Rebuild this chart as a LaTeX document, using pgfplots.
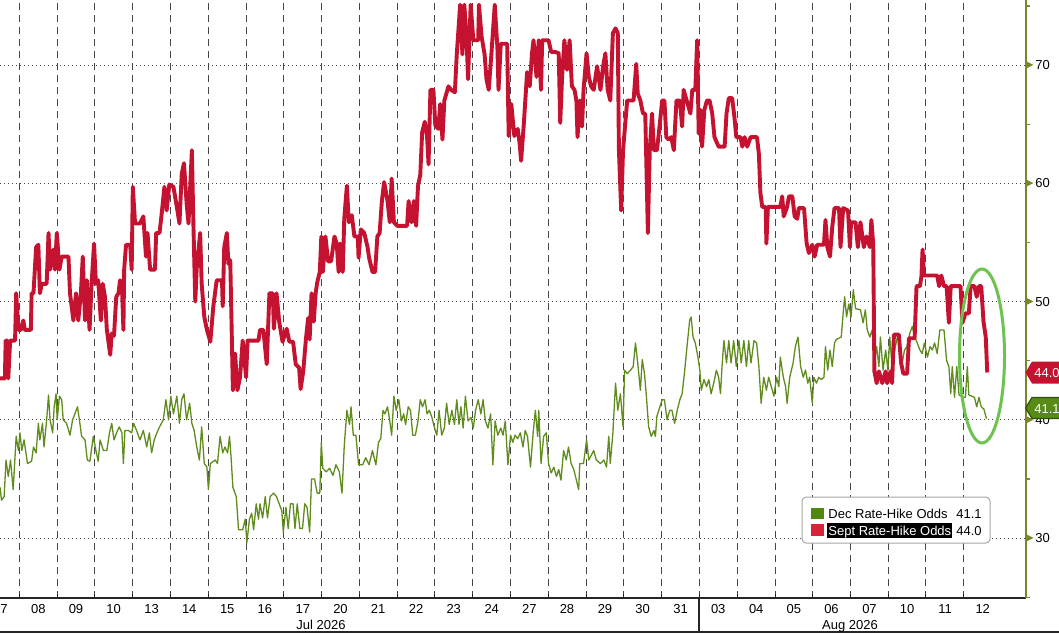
\documentclass[border=0pt]{standalone}
\usepackage{pgfplots}
\pgfplotsset{compat=1.18}
\usepackage{fontspec}
\setmainfont{Liberation Sans}
\definecolor{sept}{RGB}{196,18,48}
\definecolor{dec}{RGB}{96,140,30}
\definecolor{axisol}{RGB}{120,135,40}
\definecolor{ell}{RGB}{110,195,80}
\definecolor{gridc}{RGB}{70,70,70}
\definecolor{tagg}{RGB}{88,138,22}
\definecolor{taggb}{RGB}{50,80,10}
\definecolor{legg}{RGB}{80,135,15}
\definecolor{legr}{RGB}{215,35,55}
\newcommand\tf{\fontsize{6.5pt}{7pt}\selectfont}
\newcommand\lf{\fontsize{6.5pt}{7pt}\selectfont}

\pgfplotstableread{
x v
0.00 43.5
0.13 43.5
0.15 46.7
0.19 46.7
0.22 43.5
0.27 46.7
0.40 46.7
0.43 50.7
0.49 47.6
0.55 47.6
0.62 48.4
0.66 47.6
0.82 47.6
0.84 50.7
0.89 50.7
0.96 54.6
1.02 54.8
1.06 50.7
1.11 51.5
1.24 51.5
1.29 55.8
1.33 52.7
1.42 54.4
1.46 52.7
1.51 55.8
1.58 52.7
1.64 53.8
1.82 53.8
1.86 50.7
1.95 48.4
2.02 50.7
2.08 48.4
2.15 50.7
2.20 53.8
2.26 48.4
2.31 51.8
2.38 47.6
2.44 51.8
2.50 54.9
2.55 51.5
2.61 51.8
2.68 48.4
2.73 51.5
2.79 50.4
2.84 47.6
2.93 45.5
2.97 47.3
3.03 47.1
3.09 50.4
3.15 50.7
3.19 51.8
3.24 51.5
3.28 47.6
3.30 52.7
3.35 54.8
3.46 54.8
3.50 52.7
3.53 59.7
3.59 56.6
3.72 56.6
3.81 57.2
3.88 53.8
3.92 55.8
3.99 52.7
4.12 52.7
4.15 55.8
4.24 55.8
4.30 57.5
4.37 59.7
4.43 57.7
4.50 59.9
4.61 59.7
4.70 58.0
4.77 56.6
4.83 60.8
4.89 61.7
4.96 58.3
5.01 56.6
5.10 62.8
5.14 56.6
5.19 50.0
5.23 52.9
5.32 55.8
5.36 51.5
5.43 48.7
5.50 47.6
5.59 46.6
5.67 49.6
5.76 51.8
5.90 51.8
5.92 49.6
5.96 54.6
6.03 55.8
6.07 53.2
6.12 53.5
6.19 42.5
6.25 45.6
6.31 42.5
6.38 43.6
6.45 46.7
6.54 43.6
6.58 46.7
6.87 46.7
6.91 47.6
7.00 47.6
7.09 44.7
7.16 50.7
7.25 50.7
7.28 47.7
7.35 50.7
7.42 48.3
7.51 46.6
7.62 47.7
7.69 46.6
7.79 46.6
7.86 44.7
7.95 44.4
7.99 42.6
8.06 44.1
8.13 46.8
8.19 48.6
8.23 46.8
8.28 50.7
8.34 48.3
8.39 50.7
8.43 51.6
8.50 52.5
8.54 55.5
8.58 52.5
8.65 55.5
8.72 53.4
8.80 53.4
8.89 55.5
8.95 54.9
9.00 52.5
9.04 54.9
9.11 52.5
9.15 57.0
9.22 59.8
9.27 56.7
9.35 57.3
9.42 55.5
9.51 55.5
9.53 53.7
9.59 56.1
9.68 55.8
9.77 54.6
9.81 53.7
9.90 52.5
9.97 52.5
10.03 55.5
10.09 55.8
10.15 58.5
10.21 60.1
10.30 58.5
10.36 56.7
10.41 60.4
10.47 56.7
10.56 56.4
10.82 56.4
10.86 58.5
10.94 56.7
11.00 58.5
11.06 56.4
11.11 59.8
11.17 60.7
11.22 64.3
11.29 65.2
11.35 64.0
11.39 61.6
11.44 67.9
11.52 67.9
11.57 64.9
11.65 64.6
11.70 66.7
11.76 63.7
11.81 67.0
11.92 68.2
11.99 67.9
12.09 67.7
12.14 70.9
12.23 75.1
12.29 70.9
12.34 75.1
12.40 72.4
12.44 68.8
12.51 75.1
12.58 72.1
12.71 72.1
12.73 75.1
12.80 72.4
12.88 70.9
12.93 68.8
12.99 67.9
13.06 70.9
13.15 75.1
13.22 71.5
13.25 67.9
13.31 71.8
13.48 71.8
13.52 64.0
13.59 66.7
13.67 64.0
13.76 64.6
13.81 63.4
13.85 61.9
13.92 64.9
14.01 69.4
14.08 68.2
14.14 71.0
14.18 72.1
14.26 69.0
14.32 72.1
14.38 67.9
14.41 72.1
14.58 72.1
14.65 71.1
14.76 71.1
14.85 71.0
14.89 65.1
14.94 69.0
15.00 72.1
15.07 69.6
15.14 72.1
15.20 68.2
15.27 67.9
15.32 67.0
15.35 63.9
15.41 67.0
15.47 64.8
15.51 67.9
15.59 71.0
15.65 69.0
15.71 68.2
15.78 67.9
15.87 69.9
15.96 67.9
16.03 69.9
16.09 71.0
16.15 67.9
16.22 67.0
16.29 72.7
16.36 73.1
16.42 72.7
16.45 62.8
16.51 57.7
16.56 62.8
16.62 65.1
16.67 67.0
16.84 67.0
16.91 70.1
16.95 67.6
17.02 67.0
17.09 65.9
17.15 65.9
17.22 55.8
17.27 62.8
17.33 65.9
17.38 62.8
17.46 62.8
17.51 64.2
17.60 67.0
17.66 67.0
17.71 63.9
17.77 63.7
17.84 63.9
17.91 62.8
17.98 67.0
18.07 67.0
18.13 64.8
18.17 67.9
18.35 65.9
18.40 67.9
18.48 67.9
18.53 72.1
18.57 64.2
18.62 66.2
18.66 63.1
18.72 66.2
18.79 67.0
18.86 67.0
18.93 65.9
18.99 63.9
19.10 63.1
19.26 63.1
19.31 65.9
19.37 67.2
19.46 67.2
19.52 65.6
19.57 63.9
19.68 63.9
19.73 63.1
19.79 63.9
19.86 63.1
19.95 63.9
20.12 63.9
20.17 62.5
20.21 59.2
20.26 58.0
20.35 58.0
20.37 54.9
20.41 58.0
20.74 58.0
20.79 58.9
20.83 57.2
20.92 58.0
20.97 58.9
21.06 58.9
21.12 57.2
21.19 57.0
21.23 57.9
21.37 57.9
21.44 54.9
21.50 54.1
21.59 54.8
21.65 53.8
21.72 54.8
21.90 54.8
21.94 56.9
21.99 54.6
22.06 53.8
22.12 56.3
22.18 57.9
22.30 57.9
22.34 54.6
22.41 57.9
22.54 57.7
22.59 54.6
22.62 56.7
22.74 56.7
22.80 54.6
22.87 56.7
22.96 54.6
23.03 55.5
23.12 54.6
23.16 56.9
23.21 54.8
23.24 44.1
23.30 43.1
23.36 44.1
23.45 43.1
23.54 44.1
23.58 43.1
23.67 44.1
23.71 43.1
23.76 47.2
23.89 47.2
23.95 44.8
24.01 43.9
24.11 43.9
24.16 46.9
24.31 46.9
24.36 51.3
24.45 51.3
24.49 52.1
24.52 54.4
24.56 52.2
24.91 52.2
24.96 51.3
25.02 52.2
25.09 51.3
25.16 51.3
25.22 48.2
25.27 51.3
25.53 51.3
25.58 48.2
25.66 49.0
25.75 49.0
25.80 51.3
25.90 51.3
25.96 50.4
26.02 51.3
26.08 51.3
26.14 48.3
26.20 47.0
26.24 44.0
}\septdata

\pgfplotstableread{
x v
0.00 34.3
0.04 33.2
0.11 33.5
0.16 36.6
0.22 35.2
0.28 36.6
0.35 34.1
0.43 38.6
0.49 37.4
0.53 38.9
0.58 37.4
0.64 38.3
0.69 37.2
0.73 36.3
0.84 36.5
0.89 37.7
0.96 37.2
1.02 39.7
1.06 38.3
1.13 39.7
1.17 37.7
1.24 40.0
1.29 42.1
1.33 40.0
1.40 38.9
1.44 41.1
1.49 42.2
1.52 40.0
1.58 42.0
1.64 41.7
1.68 40.0
1.77 39.7
1.86 38.7
1.93 40.0
1.99 40.5
2.06 41.1
2.11 40.0
2.17 38.6
2.26 38.3
2.32 36.6
2.39 36.5
2.48 38.6
2.55 37.4
2.61 36.5
2.66 38.3
2.75 37.4
2.84 37.4
2.91 38.9
2.97 39.7
3.03 38.3
3.10 38.9
3.17 39.4
3.24 38.9
3.28 36.3
3.32 39.1
3.41 39.1
3.50 38.9
3.55 39.7
3.63 39.1
3.72 38.3
3.81 39.1
3.90 37.7
3.97 38.9
4.03 37.2
4.10 38.3
4.17 38.9
4.24 39.4
4.34 40.0
4.41 41.7
4.48 40.0
4.54 42.0
4.61 40.5
4.70 42.0
4.77 39.7
4.83 41.7
4.89 42.2
4.96 40.0
5.04 41.4
5.10 39.7
5.16 39.1
5.23 37.7
5.30 36.6
5.36 39.4
5.43 36.3
5.50 36.0
5.54 34.1
5.59 36.3
5.72 36.6
5.78 36.3
5.85 38.6
5.92 37.2
5.98 37.7
6.05 37.2
6.10 38.6
6.14 36.9
6.19 34.3
6.28 33.5
6.34 30.7
6.45 30.7
6.52 31.6
6.56 29.6
6.63 31.6
6.69 32.1
6.74 30.7
6.81 32.9
6.87 31.6
6.91 32.9
6.98 31.7
7.05 33.5
7.11 31.7
7.18 33.5
7.27 33.8
7.35 33.5
7.42 32.9
7.49 32.3
7.53 30.5
7.60 32.6
7.66 30.8
7.72 32.9
7.79 32.9
7.84 30.8
7.90 32.9
7.97 30.8
8.04 30.8
8.10 32.9
8.16 32.6
8.23 30.5
8.28 35.0
8.36 35.0
8.43 33.8
8.50 33.8
8.54 38.1
8.58 35.9
8.67 35.6
8.76 35.9
8.85 35.3
8.93 36.2
9.02 35.6
9.09 33.8
9.15 37.8
9.22 40.8
9.29 39.6
9.33 41.1
9.39 38.7
9.46 38.7
9.53 36.2
9.64 36.2
9.72 36.8
9.81 36.2
9.90 37.4
9.99 36.2
10.06 38.1
10.12 38.4
10.18 40.8
10.23 40.5
10.30 41.1
10.36 39.9
10.41 38.7
10.47 42.0
10.53 40.8
10.60 41.7
10.67 39.9
10.73 40.5
10.78 39.6
10.85 41.1
10.91 40.8
10.97 38.7
11.04 38.7
11.11 39.9
11.17 41.7
11.23 41.1
11.30 41.7
11.35 40.5
11.41 40.8
11.48 40.2
11.55 39.3
11.61 38.7
11.67 40.8
11.74 38.7
11.81 39.3
11.87 41.4
11.94 39.6
12.01 40.8
12.08 39.6
12.14 41.7
12.20 39.6
12.25 41.1
12.31 39.3
12.37 42.0
12.44 39.9
12.52 40.2
12.58 39.3
12.64 40.8
12.71 41.7
12.78 40.5
12.84 41.7
12.90 39.9
12.97 39.3
13.04 40.5
13.10 36.2
13.16 39.9
13.23 38.7
13.31 39.3
13.37 38.7
13.43 39.9
13.50 36.2
13.57 38.7
13.63 38.1
13.69 38.7
13.76 38.4
13.83 38.9
13.90 37.7
13.96 39.1
14.02 38.6
14.10 36.0
14.17 38.9
14.23 40.8
14.29 38.6
14.32 40.8
14.38 36.3
14.45 38.6
14.52 38.9
14.58 36.3
14.65 35.5
14.72 36.0
14.79 35.2
14.85 35.8
14.91 34.9
14.98 37.4
15.05 36.6
15.11 37.7
15.18 36.3
15.25 35.8
15.32 34.9
15.38 34.1
15.41 36.3
15.51 36.3
15.59 38.3
15.65 36.6
15.78 37.4
15.85 36.6
15.96 36.3
16.05 36.6
16.12 36.0
16.18 38.6
16.22 36.3
16.29 38.9
16.36 43.1
16.42 40.8
16.49 42.2
16.56 39.4
16.60 44.2
16.67 43.9
16.76 44.2
16.83 44.5
16.89 46.5
16.95 44.8
17.02 42.5
17.07 45.1
17.13 43.9
17.18 42.0
17.24 39.4
17.31 38.6
17.38 39.1
17.42 38.6
17.46 40.3
17.54 41.1
17.60 41.7
17.66 41.7
17.73 40.0
17.80 40.8
17.86 40.8
17.93 39.7
18.00 40.8
18.07 41.7
18.13 42.2
18.19 43.9
18.26 46.2
18.33 48.4
18.37 48.7
18.42 47.0
18.48 46.5
18.55 45.3
18.60 44.2
18.64 42.5
18.71 43.4
18.78 42.8
18.84 43.4
18.90 42.2
18.97 43.1
19.04 44.2
19.10 43.6
19.15 42.2
19.19 44.5
19.24 46.7
19.31 44.8
19.37 46.7
19.43 44.8
19.50 46.7
19.57 44.5
19.64 46.7
19.70 44.8
19.77 46.7
19.84 44.5
19.90 46.7
19.96 44.8
20.04 46.7
20.11 46.5
20.17 44.5
20.23 41.4
20.30 43.6
20.37 42.5
20.43 43.6
20.50 42.8
20.57 42.0
20.64 43.6
20.70 42.8
20.74 45.3
20.82 43.6
20.88 42.8
20.92 41.4
20.99 43.6
21.08 44.8
21.14 46.2
21.21 47.0
21.28 44.5
21.35 43.6
21.41 44.2
21.47 43.1
21.52 43.6
21.59 41.4
21.63 43.6
21.70 43.1
21.76 43.6
21.83 43.4
21.90 43.6
21.94 46.2
22.00 44.2
22.06 45.9
22.12 44.5
22.18 46.5
22.23 46.8
22.36 47.0
22.41 49.0
22.45 50.4
22.50 48.7
22.56 49.8
22.62 48.7
22.68 51.0
22.74 49.4
22.87 49.3
22.94 48.2
23.00 49.3
23.05 47.6
23.12 47.0
23.18 47.6
23.24 44.8
23.30 46.2
23.36 44.5
23.40 47.0
23.47 44.2
23.54 45.9
23.60 44.2
23.65 47.0
23.71 44.5
23.78 45.9
23.85 47.0
23.92 46.5
23.98 44.8
24.04 45.9
24.11 46.2
24.18 47.3
24.25 47.9
24.31 47.0
24.38 46.5
24.45 45.9
24.51 45.6
24.57 46.5
24.65 45.3
24.72 46.2
24.78 45.9
24.84 46.5
24.91 45.6
24.98 47.6
25.09 47.6
25.16 45.0
25.22 44.5
25.27 42.2
25.31 44.5
25.37 41.9
25.43 44.5
25.49 42.1
25.60 41.9
25.66 41.9
25.71 44.5
25.75 42.1
25.90 41.9
25.96 41.1
26.02 41.9
26.08 41.1
26.15 40.9
26.22 40.1
}\decdata

\begin{document}
\begin{tikzpicture}
\path[use as bounding box, fill=white] (0,0) rectangle (529.5pt,317pt);
\begin{axis}[
  at={(0pt,18pt)}, anchor=south west,
  scale only axis, width=513pt, height=299pt,
  xmin=0, xmax=27.27, ymin=24.93, ymax=75.5,
  axis x line*=bottom, axis y line*=right,
  x axis line style={draw=black!85, line width=0.6pt},
  y axis line style={draw=axisol, line width=0.6pt},
  xtick={0.01,1.02,2.02,3.02,4.03,5.03,6.04,7.04,8.05,9.05,10.05,11.06,12.06,13.07,14.07,15.07,16.08,17.08,18.09,19.09,20.10,21.10,22.10,23.11,24.11,25.12,26.12},
  xticklabels={\makebox[0pt][l]{7},08,09,10,13,14,15,16,17,20,21,22,23,24,27,28,29,30,31,03,04,05,06,07,10,11,12},
  minor xtick={0.51,1.52,2.52,3.53,4.53,5.54,6.54,7.54,8.55,9.55,10.56,11.56,12.56,13.57,14.57,15.58,16.58,17.59,18.59,19.59,20.60,21.60,22.61,23.61,24.61,25.62},
  ytick={30,40,50,60,70},
  minor ytick={25,35,45,55,65,75},
  major tick length=0pt, minor tick length=2pt,
  tick align=inside,
  minor x tick style={draw=black!85, line width=0.5pt},
  minor y tick style={draw=axisol, line width=0.6pt, xshift=2pt},
  xminorgrids=true, ymajorgrids=true,
  minor grid style={draw=gridc, line width=0.5pt, dash pattern=on 3.5pt off 2.5pt},
  major grid style={draw=gridc, line width=0.5pt, dash pattern=on 0.6pt off 1.4pt},
  ticklabel style={font=\tf, text=black},
  xticklabel style={anchor=north, inner sep=0pt, yshift=-3.2pt},
  yticklabel style={anchor=west, inner sep=0pt, xshift=0pt},
  yticklabel={\tikz[baseline=-2.3pt]\fill[axisol](0,-1.75pt)--(3.5pt,0)--(0,1.75pt)--cycle;\hspace{1pt}\pgfmathprintnumber{\tick}},
  /pgf/number format/assume math mode=true,
]
\addplot[dec, line width=0.65pt, line join=round] table[x=x, y=v] {\decdata};
\addplot[sept, line width=1.95pt, line join=round] table[x=x, y=v] {\septdata};
\end{axis}
\begin{scope}[x=0.5pt, y=-0.5pt, shift={(0pt,317pt)}]
  % bottom frame
  \draw[black!85, line width=0.75pt] (0,632) -- (1059,632);
  \draw[black!85, line width=0.6pt] (699,598) -- (699,632);
  \node[anchor=base, inner sep=0pt, font=\tf] at (321,629) {Jul 2026};
  \node[anchor=base, inner sep=0pt, font=\tf] at (850,629) {Aug 2026};
  % ellipse annotation
  \draw[ell, line width=1.5pt] (982,356) ellipse [x radius=22.5, y radius=87];
  % last value tags
  \fill[sept] (1025.5,372.5) -- (1032,361.5) -- (1065,361.5) -- (1065,383.5) -- (1032,383.5) -- cycle;
  \node[anchor=base west, inner sep=0pt, text=white, font=\tf] at (1034,377.5) {44.0};
  \filldraw[fill=tagg, draw=taggb, line width=0.6pt] (1025.5,408) -- (1032,397.5) -- (1065,397.5) -- (1065,418.5) -- (1032,418.5) -- cycle;
  \node[anchor=base west, inner sep=0pt, text=white, font=\tf] at (1034,413) {41.1};
  % legend
  \draw[rounded corners=2pt, draw=black!35, fill=white, line width=0.5pt] (802,497) rectangle (990,543);
  \fill[legg] (811,508) rectangle (824,519);
  \fill[legr] (811,524) rectangle (824,536);
  \node[anchor=base west, inner sep=0pt, font=\lf] at (828,518.5) {Dec Rate-Hike Odds};
  \fill[black] (827,523) rectangle (952,537.5);
  \node[anchor=base west, inner sep=0pt, font=\lf, text=white] at (828,535) {Sept Rate-Hike Odds};
  \node[anchor=base east, inner sep=0pt, font=\lf] at (982,518.5) {41.1};
  \node[anchor=base east, inner sep=0pt, font=\lf] at (982,535) {44.0};
\end{scope}
\end{tikzpicture}
\end{document}
